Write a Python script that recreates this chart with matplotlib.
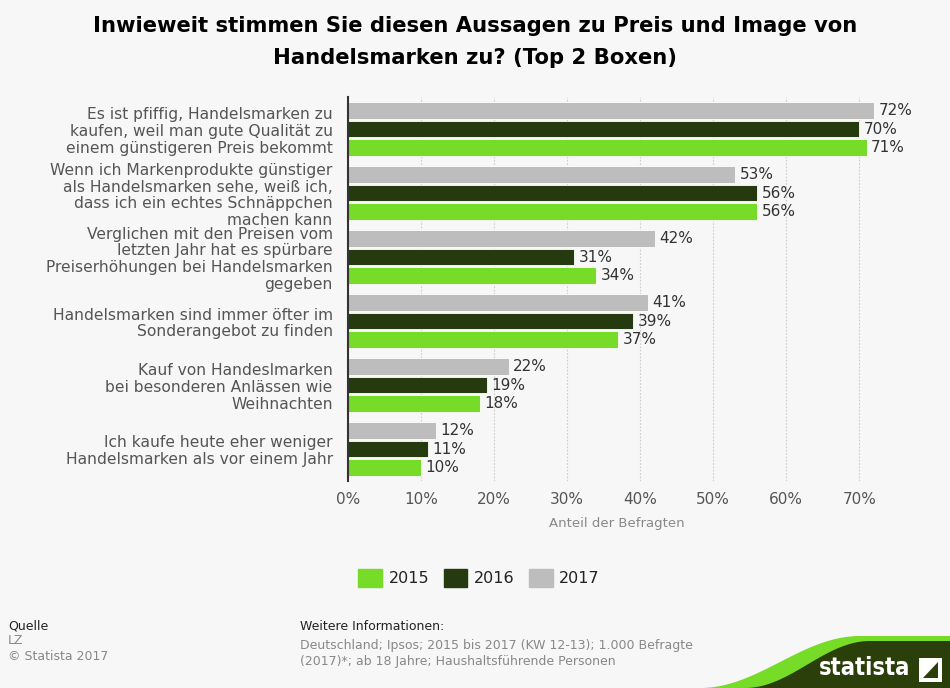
import matplotlib
matplotlib.use("Agg")
import matplotlib.pyplot as plt
import numpy as np
from matplotlib.patches import Polygon, Rectangle

categories = [
    "Es ist pfiffig, Handelsmarken zu\nkaufen, weil man gute Qualität zu\neinem günstigeren Preis bekommt",
    "Wenn ich Markenprodukte günstiger\nals Handelsmarken sehe, weiß ich,\ndass ich ein echtes Schnäppchen\nmachen kann",
    "Verglichen mit den Preisen vom\nletzten Jahr hat es spürbare\nPreiserhöhungen bei Handelsmarken\ngegeben",
    "Handelsmarken sind immer öfter im\nSonderangebot zu finden",
    "Kauf von Handeslmarken\nbei besonderen Anlässen wie\nWeihnachten",
    "Ich kaufe heute eher weniger\nHandelsmarken als vor einem Jahr",
]
years = ["2015", "2016", "2017"]
v2015 = [71, 56, 34, 37, 18, 10]
v2016 = [70, 56, 31, 39, 19, 11]
v2017 = [72, 53, 42, 41, 22, 12]
xticks = [0, 10, 20, 30, 40, 50, 60, 70]

colors = {"2015": "#76dc27", "2016": "#253a0e", "2017": "#bdbdbd"}
bg = "#f7f7f7"

fig = plt.figure(figsize=(9.5, 6.88), dpi=100, facecolor=bg)
ax = fig.add_axes([348/950, 1-481/688, (885-348)/950, (481-97)/688])
ax.set_facecolor(bg)

n = len(categories)
y = np.arange(n)
h = 0.265
pitch = 0.295
series = [("2017", v2017, -pitch), ("2016", v2016, 0), ("2015", v2015, pitch)]
for yr, vals, off in series:
    bars = ax.barh(y + off, vals, height=h, color=colors[yr], edgecolor="white", linewidth=0.6, zorder=3, label=yr)
    for b, v in zip(bars, vals):
        ax.text(b.get_width() + 0.6, b.get_y() + b.get_height()/2, f"{v}%", va="center", ha="left",
                fontsize=11, color="#333333", zorder=4)

ax.set_ylim(n - 0.5, -0.5)
ax.set_xlim(0, 73.5)
ax.set_xticks(xticks)
ax.set_xticklabels([f"{t}%" for t in xticks], fontsize=11, color="#555555")
ax.set_yticks(y)
ax.set_yticklabels(categories, fontsize=11.2, color="#555555", linespacing=1.15)
ax.tick_params(axis="both", length=0, pad=8)
ax.tick_params(axis="y", pad=11)
ax.grid(axis="x", color="#cccccc", linestyle=(0, (1.5, 1.5)), linewidth=0.8, zorder=0)
for s in ["top", "right", "bottom"]:
    ax.spines[s].set_visible(False)
ax.spines["left"].set_color("#333333")
ax.spines["left"].set_linewidth(1.5)
ax.spines["left"].set_zorder(6)
ax.set_xlabel("Anteil der Befragten", fontsize=9.5, color="#888888", labelpad=7)

fig.text(0.5, 1-26/688, "Inwieweit stimmen Sie diesen Aussagen zu Preis und Image von",
         ha="center", va="center", fontsize=15.2, fontweight="bold", color="#000000")
fig.text(0.5, 1-58/688, "Handelsmarken zu? (Top 2 Boxen)",
         ha="center", va="center", fontsize=15.2, fontweight="bold", color="#000000")

# legend
handles = [Rectangle((0, 0), 1, 1, color=colors[yr]) for yr in years]
fig.legend(handles, years, loc="center", bbox_to_anchor=(479/950, 1-578/688), ncol=3, frameon=False,
           fontsize=11.5, handlelength=1.5, handleheight=1.3, columnspacing=0.9, handletextpad=0.4,
           labelcolor="#222222")

# footer
fig.text(8/950, 1-626/688, "Quelle", fontsize=9, color="#222222", va="center")
fig.text(8/950, 1-641/688, "LZ", fontsize=9, color="#888888", va="center")
fig.text(8/950, 1-657/688, "© Statista 2017", fontsize=9, color="#888888", va="center")
fig.text(300/950, 1-627/688, "Weitere Informationen:", fontsize=9, color="#222222", va="center")
fig.text(300/950, 1-646/688, "Deutschland; Ipsos; 2015 bis 2017 (KW 12-13); 1.000 Befragte",
         fontsize=9, color="#888888", va="center")
fig.text(300/950, 1-661/688, "(2017)*; ab 18 Jahre; Haushaltsführende Personen",
         fontsize=9, color="#888888", va="center")

# statista logo
def curve(x0, x1, ytop, n=60):
    t = np.linspace(0, 1, n)
    xs = x0 + (x1 - x0) * t
    s = (1 - np.cos(np.pi * t)) / 2
    ys = 688 - (688 - ytop) * s
    return xs, ys

xs, ys = curve(700, 860, 636)
pts = [(x/950, 1-yv/688) for x, yv in zip(xs, ys)] + [(1, 1-636/688), (1, 0)]
fig.patches.append(Polygon(pts, closed=True, transform=fig.transFigure, facecolor="#76dc27", edgecolor="none"))
xs, ys = curve(745, 870, 641)
pts = [(x/950, 1-yv/688) for x, yv in zip(xs, ys)] + [(1, 1-641/688), (1, 0)]
fig.patches.append(Polygon(pts, closed=True, transform=fig.transFigure, facecolor="#2b3f0b", edgecolor="none"))
fig.text(865/950, 1-668/688, "statista", ha="center", va="center", fontsize=17, fontweight="bold",
         color="white", family="DejaVu Sans", stretch="condensed")
fig.patches.append(Rectangle((919/950, 1-682/688), 23/950, 24/688, transform=fig.transFigure,
                             facecolor="white", edgecolor="none"))
fig.patches.append(Polygon([(923/950, 1-678/688), (938/950, 1-662/688), (938/950, 1-678/688)], closed=True,
                           transform=fig.transFigure, facecolor="#2b3f0b", edgecolor="none"))

fig.savefig("out.png", dpi=100, facecolor=bg)
